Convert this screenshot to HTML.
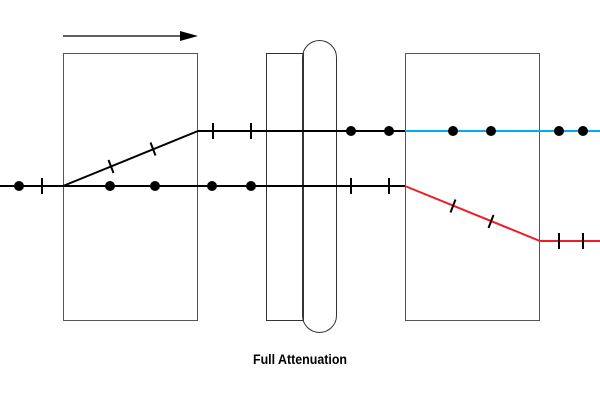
<!DOCTYPE html>
<html><head><style>html,body{margin:0;padding:0;background:#fff}</style></head>
<body>
<svg width="600" height="400" viewBox="0 0 600 400" xmlns="http://www.w3.org/2000/svg">
<rect width="600" height="400" fill="#fff"/>
<!-- arrow -->
<line x1="63" y1="36" x2="182" y2="36" stroke="#000" stroke-width="1.2"/>
<polygon points="180,31 198,36 180,41" fill="#000"/>
<!-- boxes -->
<rect x="63.5" y="53.5" width="134" height="267" fill="none" stroke="#555" stroke-width="1"/>
<rect x="266.5" y="53.5" width="37" height="267" fill="none" stroke="#333" stroke-width="1"/>
<rect x="405.5" y="53.5" width="134" height="267" fill="none" stroke="#555" stroke-width="1"/>
<rect x="302.5" y="40.5" width="34" height="292" rx="17" ry="17" fill="none" stroke="#333" stroke-width="1"/>
<!-- lines -->
<g stroke="#000" stroke-width="2" fill="none">
<polyline points="0,186 405,186"/>
<polyline points="63,186 198,131 405,131"/>
</g>
<polyline points="405,186 540,241 600,241" stroke="#ee1c25" stroke-width="2" fill="none"/>
<line x1="405" y1="131" x2="600" y2="131" stroke="#00aeef" stroke-width="2"/>
<!-- dots -->
<g fill="#000">
<circle cx="19" cy="186" r="5"/><circle cx="110" cy="186" r="5"/><circle cx="155" cy="186" r="5"/>
<circle cx="212" cy="186" r="5"/><circle cx="251" cy="186" r="5"/>
<circle cx="351" cy="131" r="5"/><circle cx="389" cy="131" r="5"/><circle cx="453" cy="131" r="5"/>
<circle cx="491" cy="131" r="5"/><circle cx="559" cy="131" r="5"/><circle cx="583" cy="131" r="5"/>
</g>
<!-- ticks -->
<g stroke="#000" stroke-width="2">
<line x1="42" y1="178" x2="42" y2="194"/>
<line x1="351" y1="178" x2="351" y2="194"/>
<line x1="389" y1="178" x2="389" y2="194"/>
<line x1="213" y1="123" x2="213" y2="139"/>
<line x1="251" y1="123" x2="251" y2="139"/>
<line x1="559" y1="233" x2="559" y2="249"/>
<line x1="583" y1="233" x2="583" y2="249"/>
<line x1="108.5" y1="160" x2="113.5" y2="173"/>
<line x1="150.5" y1="142.5" x2="155.5" y2="155.5"/>
<line x1="450.5" y1="212.5" x2="455.5" y2="199.5"/>
<line x1="488.5" y1="228" x2="493.5" y2="215"/>
</g>
<text x="253" y="364" font-family="Liberation Sans, sans-serif" font-weight="bold" font-size="14" textLength="94" lengthAdjust="spacingAndGlyphs" fill="#000">Full Attenuation</text>
</svg>
</body></html>
